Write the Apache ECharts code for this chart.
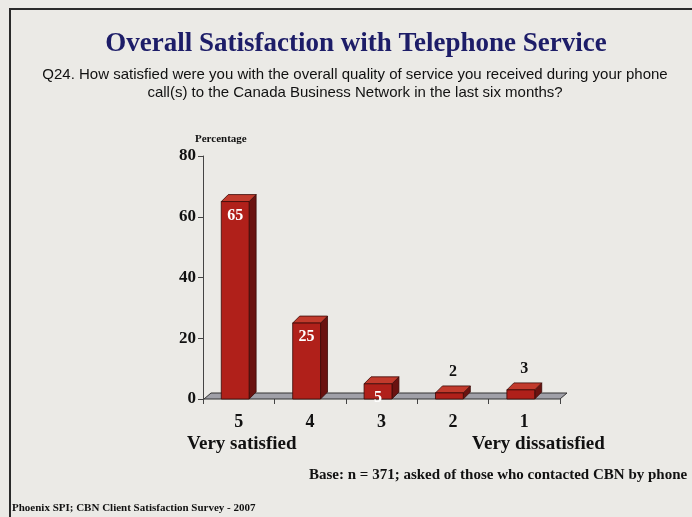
<!DOCTYPE html>
<html><head><meta charset="utf-8">
<script src="https://cdn.jsdelivr.net/npm/echarts@6/dist/echarts.min.js"></script>
<style>html,body{margin:0;padding:0;background:#ebeae6;}#c{width:692px;height:517px;}</style>
</head><body><div id="c"></div>
<script>
const categories = ['5','4','3','2','1'];
const percentages = [65, 25, 5, 2, 3];
const yTicks = [0, 20, 40, 60, 80];
const titleText = 'Overall Satisfaction with Telephone Service';
const questionText = 'Q24. How satisfied were you with the overall quality of service you received during your phone\ncall(s) to the Canada Business Network in the last six months?';
const axisTitle = 'Percentage';
const leftEnd = 'Very satisfied';
const rightEnd = 'Very dissatisfied';
const baseNote = 'Base: n = 371; asked of those who contacted CBN by phone';
const sourceNote = 'Phoenix SPI; CBN Client Satisfaction Survey - 2007';

const serif = '"Liberation Serif","Times New Roman",serif';
const sans = '"Liberation Sans",Arial,sans-serif';
const D = 7;
const chart = echarts.init(document.getElementById('c'));

function renderBar(params, api) {
  const idx = api.value(0), val = api.value(1);
  const top = api.coord([idx, val]);
  const base = api.coord([idx, 0]);
  const w = api.size([1, 0])[0] * 0.39;
  const x0 = top[0] - w / 2 - D / 2, x1 = x0 + w;
  const yt = top[1], yb = base[1];
  const inside = val >= 5;
  return {
    type: 'group',
    children: [
      { type: 'polygon', shape: { points: [[x1, yb], [x1 + D, yb - D], [x1 + D, yt - D], [x1, yt]] },
        style: { fill: '#6a1210', stroke: '#3a0a08', lineWidth: 0.8 } },
      { type: 'polygon', shape: { points: [[x0, yt], [x1, yt], [x1 + D, yt - D], [x0 + D, yt - D]] },
        style: { fill: '#c23a2c', stroke: '#3a0a08', lineWidth: 0.8 } },
      { type: 'rect', shape: { x: x0, y: yt, width: w, height: yb - yt },
        style: { fill: '#b0201a', stroke: '#3a0a08', lineWidth: 0.8 } },
      { type: 'text', z2: 10,
        style: { text: String(val), x: x0 + w / 2 + (inside ? 0 : D / 2), y: inside ? yt + 14 : yt - 21,
          align: 'center', verticalAlign: 'middle', fill: inside ? '#ffffff' : '#111111',
          font: 'bold 16px ' + serif } }
    ]
  };
}

function renderFloor(params, api) {
  const cs = params.coordSys;
  const yb = cs.y + cs.height, xl = cs.x + 1, xr = cs.x + cs.width;
  return { type: 'polygon', shape: { points: [[xl, yb], [xr, yb], [xr + D, yb - D + 1], [xl + D, yb - D + 1]] },
    style: { fill: '#a0a0a8', stroke: '#333333', lineWidth: 1 } };
}

chart.setOption({
  backgroundColor: '#ebeae6',
  animation: false,
  graphic: [
    { type: 'polyline', shape: { points: [[10, 517], [10, 9], [692, 9]] }, style: { stroke: '#2a2a2a', lineWidth: 2, fill: null } },
    { type: 'text', x: 356, y: 44, style: { text: titleText, font: 'bold 27px ' + serif, fill: '#1d1d68', align: 'center', verticalAlign: 'middle' } },
    { type: 'text', x: 355, y: 66, style: { text: questionText, font: '15px ' + sans, fill: '#111', align: 'center', verticalAlign: 'top', lineHeight: 18 } },
    { type: 'text', left: 195, top: 134, style: { text: axisTitle, font: 'bold 11px ' + serif, fill: '#111' } },
    { type: 'text', left: 187, top: 435, style: { text: leftEnd, font: 'bold 19px ' + serif, fill: '#111' } },
    { type: 'text', left: 472, top: 435, style: { text: rightEnd, font: 'bold 19px ' + serif, fill: '#111' } },
    { type: 'text', left: 309, top: 468, style: { text: baseNote, font: 'bold 15px ' + serif, fill: '#111' } },
    { type: 'text', left: 12, top: 503, style: { text: sourceNote, font: 'bold 11px ' + serif, fill: '#111' } }
  ],
  grid: { left: 203, right: 132, top: 156, bottom: 118 },
  xAxis: {
    type: 'category', data: categories,
    axisLine: { show: false },
    axisTick: { show: true, length: 5, lineStyle: { color: '#444' } },
    axisLabel: { margin: 14, color: '#111', fontFamily: serif, fontWeight: 'bold', fontSize: 18 }
  },
  yAxis: {
    type: 'value', min: 0, max: 80, interval: 20,
    axisLine: { show: true, lineStyle: { color: '#444', width: 1 } },
    axisTick: { show: true, length: 5, inside: false, lineStyle: { color: '#444' } },
    splitLine: { show: false },
    axisLabel: { margin: 7, color: '#111', fontFamily: serif, fontWeight: 'bold', fontSize: 17,
      formatter: v => yTicks.includes(v) ? String(v) : '' }
  },
  series: [
    { type: 'custom', z: 1, renderItem: renderFloor, data: [[0, 0]], silent: true },
    { type: 'custom', z: 2, renderItem: renderBar, data: percentages.map((v, i) => [i, v]) }
  ]
});
</script></body></html>
